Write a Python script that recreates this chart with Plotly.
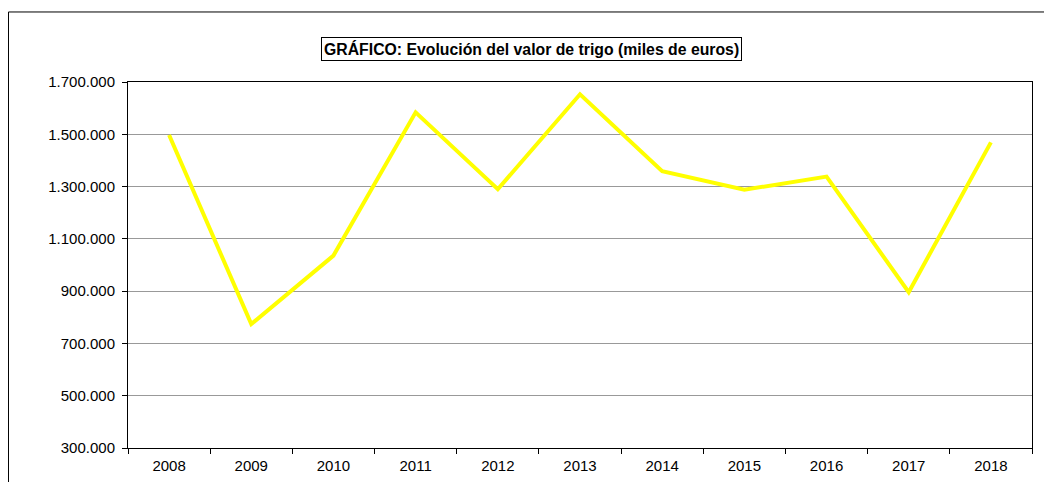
import plotly.graph_objects as go

# valores (miles de euros)
years = ["2008", "2009", "2010", "2011", "2012", "2013", "2014", "2015", "2016", "2017", "2018"]
valor_trigo = [1497000, 774000, 1036000, 1584000, 1290000, 1653000, 1359000, 1288000, 1338000, 896000, 1469000]
y_ticks = [300000, 500000, 700000, 900000, 1100000, 1300000, 1500000, 1700000]
titulo = "GRÁFICO: Evolución del valor de trigo (miles de euros)"

FONT = "Arial, Liberation Sans, sans-serif"

fig = go.Figure()

fig.add_trace(go.Scatter(
    x=years,
    y=valor_trigo,
    mode="lines",
    line=dict(color="#FFFF00", width=4),
    showlegend=False,
    hoverinfo="x+y",
))

# marco exterior del gráfico
fig.add_shape(
    type="rect", xref="paper", yref="paper",
    x0=-0.1322, x1=1.08, y0=-0.3, y1=1.1913,
    line=dict(color="black", width=1), layer="below",
)

# título con recuadro
fig.add_annotation(
    text="<b>" + titulo + "</b>",
    xref="paper", yref="paper", x=0.4458, y=1.0902,
    xanchor="center", yanchor="middle", showarrow=False,
    font=dict(family=FONT, size=15.8, color="black"),
    bordercolor="black", borderwidth=1, borderpad=2, bgcolor="white",
)

# la página deja 8 px de margen, por eso la figura es algo menor que la ventana
fig.update_layout(
    width=1044,
    height=474,
    margin=dict(l=120, r=20, t=74, b=34),
    paper_bgcolor="white",
    plot_bgcolor="white",
    separators=",.",
    font=dict(family=FONT, size=15, color="black"),
    xaxis=dict(
        type="category",
        range=[-0.5, len(years) - 0.5],
        automargin=False,
        showline=True, linecolor="black", linewidth=1, mirror=True,
        ticks="outside", tickson="boundaries", ticklen=5, tickcolor="black",
        ticklabelstandoff=4,
        showgrid=False, zeroline=False,
        tickfont=dict(size=15),
    ),
    yaxis=dict(
        range=[300000, 1700000],
        tickvals=y_ticks,
        tickformat=",.0f",
        automargin=False,
        showline=True, linecolor="black", linewidth=1, mirror=True,
        ticks="outside", ticklen=5, tickcolor="black",
        ticklabelstandoff=4,
        showgrid=True, gridcolor="#999999", gridwidth=1,
        zeroline=False,
        tickfont=dict(size=15),
    ),
)

fig.write_html("out.html")
